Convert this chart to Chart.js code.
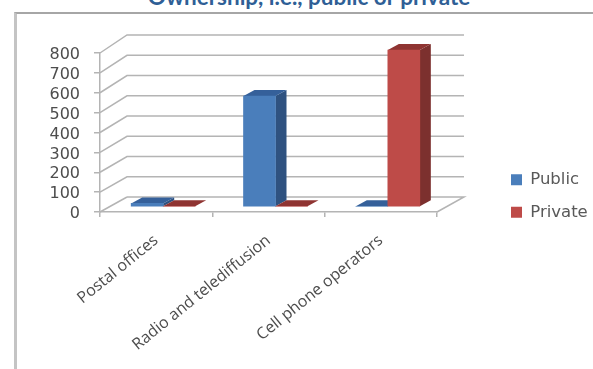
<!DOCTYPE html>
<html>
<head>
<meta charset="utf-8">
<title>Ownership</title>
<script src="https://cdn.jsdelivr.net/npm/chart.js@4"></script>
<style>
  html, body { margin: 0; padding: 0; background: #fff; overflow: hidden; }
  #page { position: relative; width: 593px; height: 369px; overflow: hidden; }
  #frame { position: absolute; left: 14px; top: 12px; right: -4px; bottom: -4px; border-left: 3px solid #c4c4c4; border-top: 2px solid #a6a6a6; }
  #heading { position: absolute; left: 0; top: -13px; width: 618px; text-align: center; font: bold 22.5px/20px Lato, sans-serif; color: #2f5f96; }
  canvas { position: absolute; left: 0; top: 0; filter: blur(0.5px); }
</style>
</head>
<body>
<div id="page">
  <div id="frame"></div>
  <div id="heading">Ownership, i.e., public or private</div>
  <canvas id="ownerChart" width="593" height="369"></canvas>
</div>
<script>
const categories = ['Postal offices', 'Radio and telediffusion', 'Cell phone operators'];
const publicValues = [18, 558, 4];
const privateValues = [4, 4, 790];

// colours of the two extra faces of each bar
const faces = [
  { side: '#2f5280', top: '#35609a' },
  { side: '#7c302e', top: '#8f3432' }
];

// bars stand a bit behind the front edge of the floor
const barShift = { x: 7, y: -5 };
const barDepth = { x: 11, y: -6 };

function drawFaces(ctx, meta, f) {
  meta.data.forEach(bar => {
    const l = bar.x - bar.width / 2, r = bar.x + bar.width / 2;
    ctx.fillStyle = f.side;
    ctx.beginPath();
    ctx.moveTo(r, bar.y);
    ctx.lineTo(r + barDepth.x, bar.y + barDepth.y);
    ctx.lineTo(r + barDepth.x, bar.base + barDepth.y);
    ctx.lineTo(r, bar.base);
    ctx.closePath();
    ctx.fill();
    ctx.fillStyle = f.top;
    ctx.beginPath();
    ctx.moveTo(l, bar.y);
    ctx.lineTo(l + barDepth.x, bar.y + barDepth.y);
    ctx.lineTo(r + barDepth.x, bar.y + barDepth.y);
    ctx.lineTo(r, bar.y);
    ctx.closePath();
    ctx.fill();
  });
}

const wall3d = {
  id: 'wall3d',
  // x labels are clipped to the axis box, let them run to the canvas bottom
  afterLayout(chart) {
    chart.scales.x.bottom = chart.height;
  },
  beforeDatasetsDraw(chart) {
    const { ctx, scales } = chart;
    const y = scales.y;
    const left = chart.chartArea.left, right = chart.chartArea.right;
    ctx.save();
    ctx.strokeStyle = '#b4b4b4';
    ctx.lineWidth = 1.5;
    y.ticks.forEach(t => {
      const py = y.getPixelForValue(t.value);
      const back = py - 15 - 3 * t.value / 800;
      ctx.beginPath();
      ctx.moveTo(left, py);
      ctx.lineTo(left + 27, back);
      if (t.value > 0) {
        ctx.lineTo(right + 27, back);
      }
      ctx.stroke();
    });
    // floor, right side and back edge
    const py0 = y.getPixelForValue(0);
    ctx.beginPath();
    ctx.moveTo(right, py0);
    ctx.lineTo(right + 27, py0 - 15);
    ctx.lineTo(left + 27, py0 - 15);
    ctx.stroke();
    ctx.restore();
    ctx.save();
    ctx.translate(barShift.x, barShift.y);
    // public first so the private front covers its side
    chart.data.datasets.forEach((d, i) => drawFaces(ctx, chart.getDatasetMeta(i), faces[i]));
  },
  afterDatasetsDraw(chart) {
    chart.ctx.restore();
  }
};

new Chart(document.getElementById('ownerChart'), {
  type: 'bar',
  data: {
    labels: categories,
    datasets: [
      { label: 'Public', data: publicValues, backgroundColor: '#4a7ebb', barThickness: 32, clip: false },
      { label: 'Private', data: privateValues, backgroundColor: '#be4b48', barThickness: 32, clip: false }
    ]
  },
  plugins: [wall3d],
  options: {
    responsive: false,
    animation: false,
    layout: { padding: { top: 53, right: -1, bottom: 30, left: 0 } },
    plugins: {
      tooltip: { enabled: false },
      legend: {
        position: 'right',
        labels: {
          boxWidth: 11,
          boxHeight: 11,
          padding: 16,
          color: '#595959',
          font: { family: 'DejaVu Sans', size: 16.5 }
        }
      }
    },
    scales: {
      x: {
        grid: { drawOnChartArea: false, tickLength: 5, color: '#b4b4b4', lineWidth: 1.5 },
        border: { color: '#b4b4b4', width: 1.5 },
        ticks: {
          autoSkip: false,
          minRotation: 39,
          maxRotation: 39,
          padding: 14,
          color: '#4d4d4d',
          font: { family: 'Open Sans', size: 16 }
        },
        afterFit(s) { s.height = 127; }
      },
      y: {
        min: 0,
        max: 800,
        grid: { drawOnChartArea: false, tickLength: 6, color: '#b4b4b4', lineWidth: 1.5 },
        border: { color: '#b4b4b4', width: 1.5 },
        ticks: {
          autoSkip: false,
          stepSize: 100,
          padding: 14,
          labelOffset: 2,
          color: '#4d4d4d',
          font: { family: 'DejaVu Sans', size: 16 }
        },
        afterFit(s) { s.width = 100; }
      },
      // empty axis, only keeps the room between the plot and the legend
      gap: {
        position: 'right',
        display: true,
        grid: { display: false },
        border: { display: false },
        ticks: { display: false },
        afterFit(s) { s.width = 58; }
      }
    }
  }
});
</script>
</body>
</html>
